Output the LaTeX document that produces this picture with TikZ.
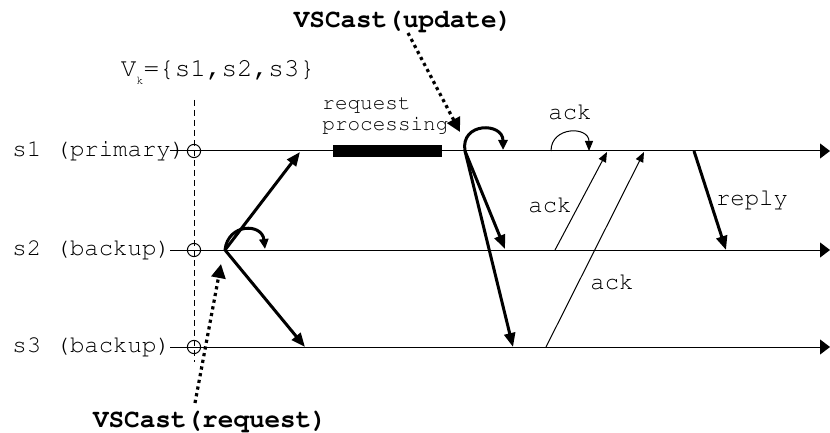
\documentclass[tikz,border=0pt]{standalone}
\usepackage[T1]{fontenc}
\usepackage{courier}
\renewcommand{\familydefault}{\ttdefault}
\usetikzlibrary{arrows.meta}

\begin{document}
\begin{tikzpicture}[x=0.5pt,y=-0.5pt,
		line/.style={line width=0.5pt,-{Triangle[length=5pt,width=7.5pt]}},
		msg/.style={line width=1.5pt,-{Triangle[length=7pt,width=5.5pt]}},
		loopmsg/.style={line width=1.5pt,-{Triangle[length=5pt,width=4.5pt]}},
		ackmsg/.style={line width=0.5pt,-{Triangle[length=5pt,width=4pt]}},
		cast/.style={line width=1.6pt,dash pattern=on 1.6pt off 1.8pt,-{Triangle[length=7pt,width=7pt]}},
		lbl/.style={font=\fontsize{12}{14}\selectfont,inner sep=0pt},
		bold/.style={font=\fontsize{13}{15}\selectfont\bfseries,inner sep=0pt}]
		\useasboundingbox (0,0) rectangle (830,433);
		% processes
		\node[lbl,anchor=west] (p1) at (12,151) {s1 (primary)};
		\node[lbl,anchor=west] (p2) at (12,250) {s2 (backup)};
		\node[lbl,anchor=west] (p3) at (12,347) {s3 (backup)};
		\draw[line] (170,151) coordinate (e1) -- (830,151) coordinate (f1);
		\draw[line] (170,250) coordinate (e2) -- (830,250) coordinate (f2);
		\draw[line] (170,347) coordinate (e3) -- (830,347) coordinate (f3);
		% view
		\node[font=\fontsize{13}{15}\selectfont,inner sep=0pt] (view) at (218,72) {V\raisebox{-4pt}{\fontsize{6}{7}\selectfont k}=\{s1,s2,s3\}};
		\draw[line width=0.5pt,dash pattern=on 3pt off 2pt] (194,100) coordinate (vt) -- (194,362) coordinate (vb);
		\foreach \y in {151,250,347}
			\draw[line width=0.5pt] (194,\y) circle (3.3pt);
		% request at s2
		\coordinate (a2) at (225,250);
		\coordinate (a1) at (300,152);
		\coordinate (a3) at (305,347);
		\coordinate (l2) at (265,249);
		\draw[msg] (a2) -- (a1);
		\draw[msg] (a2) -- (a3);
		\draw[loopmsg] (a2) .. controls (228,223) and (262,223) .. (l2);
		\node[bold] (vsreq) at (210,421) {VSCast(request)};
		\coordinate (r0) at (195,403);
		\coordinate (r1) at (221,264);
		\draw[cast] (r0) -- (r1);
		% processing at s1
		\coordinate (b0) at (333,151);
		\coordinate (b1) at (442,151);
		\draw[line width=6pt] (b0) -- (b1);
		\node[font=\fontsize{10.5}{10.5}\selectfont,inner sep=0pt,align=left,anchor=west] (proc) at (322,116) {request\\processing};
		% update
		\node[bold] (vsupd) at (403,21) {VSCast(update)};
		\coordinate (u0) at (408,33);
		\coordinate (u1) at (460,132);
		\draw[cast] (u0) -- (u1);
		\coordinate (c1) at (465,151);
		\coordinate (c2) at (505,249);
		\coordinate (c3) at (513,347);
		\coordinate (m1) at (503,150);
		\draw[loopmsg] (c1) .. controls (460,122) and (503,122) .. (m1);
		\draw[msg] (c1) -- (c2);
		\draw[msg] (c1) -- (c3);
		% acks
		\coordinate (k0) at (551,151);
		\coordinate (k1) at (589,151);
		\draw[ackmsg] (k0) .. controls (551,126) and (589,126) .. node[lbl,above=6pt] (ack1) {ack} (k1);
		\coordinate (k2) at (555,250);
		\coordinate (k3) at (607,152);
		\draw[ackmsg] (k2) -- (k3);
		\node[lbl] (ack2) at (550,205) {ack};
		\coordinate (k4) at (546,347);
		\coordinate (k5) at (644,152);
		\draw[ackmsg] (k4) -- (k5);
		\node[lbl] (ack3) at (612,282) {ack};
		% reply
		\coordinate (y0) at (694,151);
		\coordinate (y1) at (726,250);
		\draw[msg] (y0) -- (y1);
		\node[lbl] (reply) at (752,200) {reply};
\end{tikzpicture}
\end{document}
